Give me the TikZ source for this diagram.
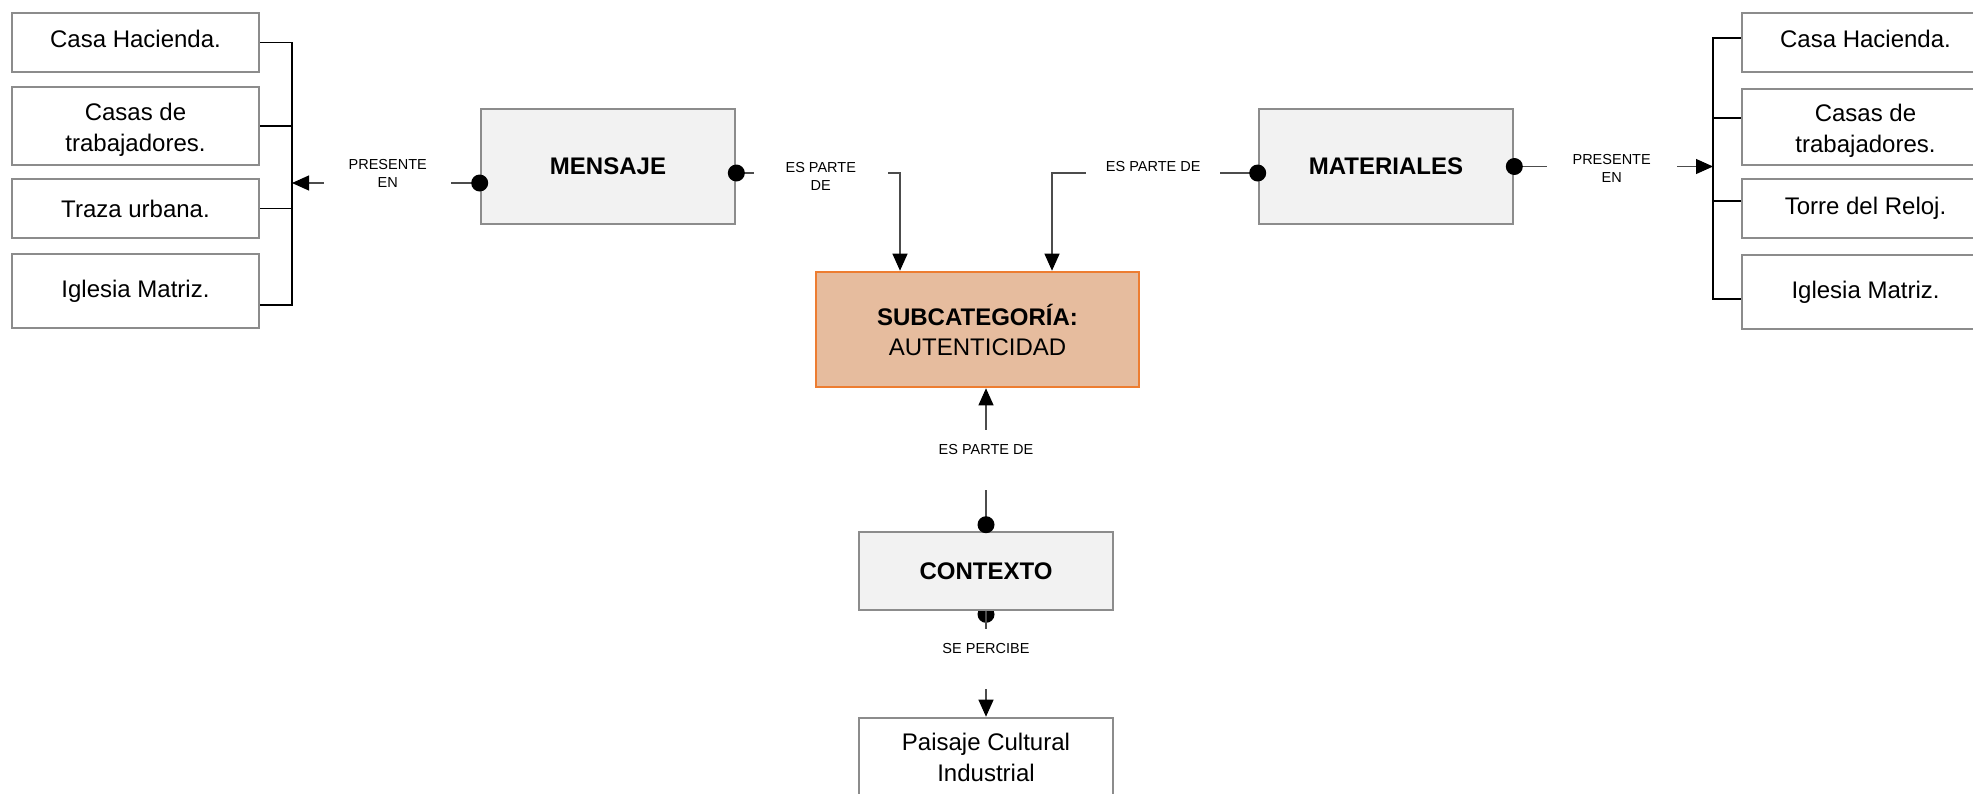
\documentclass[tikz,border=0pt]{standalone}
\usepackage{fontspec}
\setmainfont{Liberation Sans}
\usetikzlibrary{arrows.meta,backgrounds}
\definecolor{boxgray}{HTML}{F2F2F2}
\definecolor{edgegray}{HTML}{8C8C8C}
\definecolor{subfill}{HTML}{E6BC9E}
\definecolor{suborange}{HTML}{ED7D31}
\begin{document}
\begin{tikzpicture}[x=1pt,y=-1pt,
    leafbox/.style={draw=edgegray,line width=2.6pt,fill=white,minimum width=247pt,inner sep=0pt,align=center,font=\fontsize{24}{31}\selectfont},
    mainbox/.style={leafbox,fill=boxgray,minimum width=254pt,font=\fontsize{24}{29}\selectfont\bfseries},
    subbox/.style={leafbox,draw=suborange,fill=subfill,minimum width=323pt,minimum height=115pt,font=\fontsize{24}{30}\selectfont},
    link/.style={draw=black!70,line width=1.1pt,-{Triangle[length=17pt,width=15pt,color=black]}},
    brk/.style={draw=black,line width=1.2pt},
    lbl/.style={fill=white,inner ysep=2pt,align=center,font=\fontsize{14.5}{18}\selectfont},
    vlbl/.style={lbl,inner ysep=0pt,text height=24pt,text depth=36pt,anchor=base},
    dotfill/.style={fill=black}]
  \useasboundingbox (0,0) rectangle (1973,793);

  \node[leafbox,minimum height=59pt] (lhacienda) at (135.5,42.5) {\raisebox{7pt}{Casa Hacienda.}};
  \node[leafbox,minimum height=78pt] (ltrab) at (135.5,126) {\rule{0pt}{25pt}Casas de\\trabajadores.};
  \node[leafbox,minimum height=59pt] (ltraza) at (135.5,208.5) {Traza urbana.};
  \node[leafbox,minimum height=74pt] (liglesia) at (135.5,291) {Iglesia Matriz.};

  \node[leafbox,minimum height=59pt] (rhacienda) at (1865.5,42.5) {\raisebox{7pt}{Casa Hacienda.}};
  \node[leafbox,minimum height=76pt] (rtrab) at (1865.5,127) {\rule{0pt}{25pt}Casas de\\trabajadores.};
  \node[leafbox,minimum height=59pt] (rtorre) at (1865.5,208.5) {Torre del Reloj.};
  \node[leafbox,minimum height=74pt] (riglesia) at (1865.5,292) {Iglesia Matriz.};

  \node[mainbox,minimum height=115pt] (mensaje) at (608,166.5) {MENSAJE};
  \node[mainbox,minimum height=115pt] (materiales) at (1386,166.5) {MATERIALES};
  \node[subbox] (sub) at (977.5,329.5) {\textbf{SUBCATEGORÍA:}\\AUTENTICIDAD};
  \node[mainbox,minimum height=78pt] (contexto) at (986,571) {CONTEXTO};
  \node[leafbox,minimum width=254pt,minimum height=78pt] (paisaje) at (986,757) {Paisaje Cultural\\Industrial};

  \coordinate (brkL) at (292,183);
  \coordinate (brkR) at (1713,166.5);

  \draw[brk] ([yshift=-14pt]liglesia.east) -| (brkL) |- (lhacienda.east);
  \draw[brk] (ltrab.east) -- (ltrab.east -| brkL) (ltraza.east) -- (ltraza.east -| brkL);
  \draw[brk] ([yshift=-7pt]riglesia.west) -| (brkR) |- ([yshift=4.5pt]rhacienda.west);
  \draw[brk] ([yshift=9pt]rtrab.west) -- +(-29,0) ([yshift=7.5pt]rtorre.west) -- +(-29,0);

  \draw[link] ([yshift=-16.5pt]mensaje.west) -- node[lbl,pos=.49,yshift=10pt,inner xsep=24.5pt] {PRESENTE\\EN} (brkL);
  \draw[link] ([yshift=-6.5pt]mensaje.east) -| node[lbl,pos=.258,yshift=-3.5pt,inner xsep=32pt] {ES PARTE\\DE} ([xshift=-77.5pt]sub.north);
  \draw[link] ([yshift=-6.5pt]materiales.west) -| node[lbl,pos=.254,yshift=6pt,inner xsep=19.5pt] {ES PARTE DE} ([xshift=74.5pt]sub.north);
  \draw[link] (materiales.east) -- node[lbl,pos=.49,yshift=-1.5pt,inner xsep=26pt] {PRESENTE\\EN} (brkR);
  \draw[link] ([yshift=6pt]contexto.north) -- node[vlbl,pos=.518] {ES PARTE DE} ([xshift=8.5pt]sub.south);
  \draw[link] (contexto.south) -- node[vlbl,pos=.398] {SE PERCIBE} (paisaje.north);

  \fill[dotfill] ([yshift=-16.5pt]mensaje.west) circle (8.5pt);
  \fill[dotfill] ([yshift=-6.5pt]mensaje.east) circle (8.5pt);
  \fill[dotfill] ([yshift=-6.5pt]materiales.west) circle (8.5pt);
  \fill[dotfill] (materiales.east) circle (8.5pt);
  \fill[dotfill] ([yshift=6pt]contexto.north) circle (8.5pt);
  \begin{scope}[on background layer]
    \fill[dotfill] ([yshift=-3pt]contexto.south) circle (8.5pt);
  \end{scope}
\end{tikzpicture}
\end{document}
